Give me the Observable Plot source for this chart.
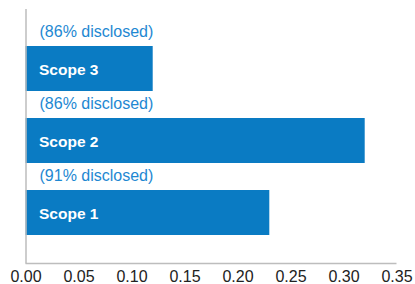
<!DOCTYPE html>
<html>
<head>
<meta charset="utf-8">
<script src="https://cdn.jsdelivr.net/npm/d3@7"></script>
<script src="https://cdn.jsdelivr.net/npm/@observablehq/plot@0.6"></script>
<style>
  html, body { margin: 0; padding: 0; background: #fff; }
  #chart svg { display: block; }
</style>
</head>
<body>
<div id="chart"></div>
<script>
const categories = ["Scope 3", "Scope 2", "Scope 1"];
const values = [0.12, 0.32, 0.23];
const disclosed = ["86%", "86%", "91%"];
const xTicks = [0, 0.05, 0.1, 0.15, 0.2, 0.25, 0.3, 0.35];

const data = categories.map((c, i) => ({
  category: c,
  value: values[i],
  note: `(${disclosed[i]} disclosed)`
}));

const barColor = "#0a7bc3";
const noteColor = "#1e88d2";
const axisColor = "#bdbdbd";
const font = "'Liberation Sans', Arial, Helvetica, sans-serif";

const bottomAxisLine = (index, scales, values, dimensions) => {
  const {height, marginBottom} = dimensions;
  const y = height - marginBottom;
  const line = d3.create("svg:line")
    .attr("x1", scales.x(0))
    .attr("x2", scales.x(0.35))
    .attr("y1", y)
    .attr("y2", y)
    .attr("stroke", axisColor)
    .attr("stroke-width", 1.5);
  return line.node();
};

const chart = Plot.plot({
  width: 415,
  height: 284,
  marginLeft: 25.5,
  marginRight: 18.5,
  marginTop: 9,
  marginBottom: 20.5,
  style: {fontFamily: font, background: "#fff"},
  x: {domain: [0, 0.35], ticks: xTicks, tickFormat: d3.format(".2f"), label: null},
  y: {domain: categories, range: [31.6, 249.1], paddingInner: 0.37, paddingOuter: 0.185, axis: null},
  marks: [
    Plot.barX(data, {x: "value", y: "category", fill: barColor}),
    Plot.ruleX([0], {stroke: axisColor, strokeWidth: 1.5}),
    bottomAxisLine,
    Plot.axisX({ticks: xTicks, tickFormat: d3.format(".2f"), tickSize: 0, tickPadding: 6.5, fontSize: 16, fill: "#222", label: null}),
    Plot.text(data, {x: 0, y: "category", text: "category", textAnchor: "start", lineAnchor: "bottom", dx: 13, dy: 5.5, fill: "white", fontWeight: "bold", fontSize: 15.5}),
    Plot.text(data, {x: 0, y: "category", text: "note", textAnchor: "start", lineAnchor: "bottom", dx: 13.5, dy: -32.5, fill: noteColor, fontSize: 16})
  ]
});

document.getElementById("chart").appendChild(chart);
</script>
</body>
</html>
